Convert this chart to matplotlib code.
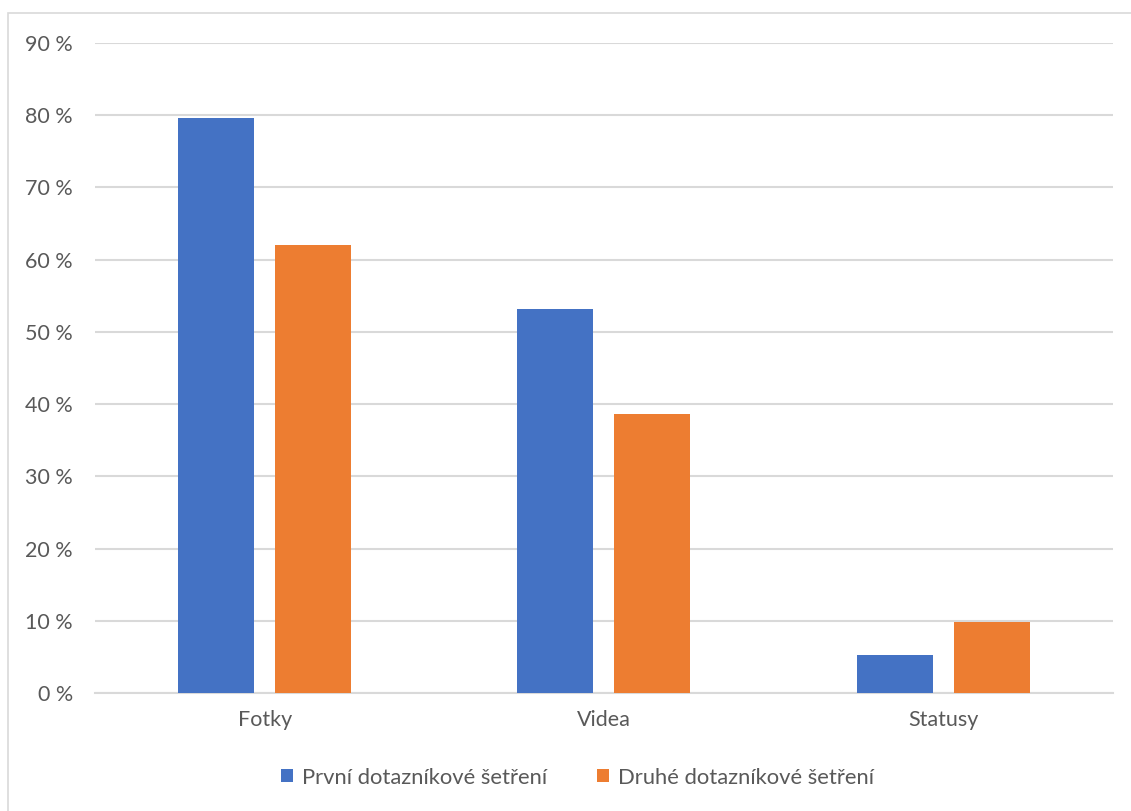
import matplotlib.pyplot as plt
import numpy as np
from matplotlib.patches import Rectangle

categories = ['Fotky', 'Videa', 'Statusy']
series_names = ['První dotazníkové šetření', 'Druhé dotazníkové šetření']
prvni = [79.6, 53.2, 5.3]
druhe = [62.0, 38.6, 9.8]
yticks = [0, 10, 20, 30, 40, 50, 60, 70, 80, 90]

plt.rcParams['font.family'] = ['Lato', 'DejaVu Sans']
text_col = '#595959'
grid_col = '#d9d9d9'

fig = plt.figure(figsize=(11.31, 8.11), dpi=100)
ax = fig.add_axes([0.084, 0.1455, 0.9, 0.8015])

# chart border (left and top edges visible)
fig.patches.append(Rectangle((8 / 1131, -0.01), 1.1, (811 - 13) / 811 + 0.01,
                             transform=fig.transFigure, fill=False,
                             edgecolor=grid_col, lw=1.2))

x = np.arange(len(categories))
w = 0.224
off = 0.143
ax.bar(x - off, prvni, w, color='#4472c4', zorder=3, label=series_names[0])
ax.bar(x + off, druhe, w, color='#ed7d31', zorder=3, label=series_names[1])

ax.set_xlim(-0.5, 2.5)
ax.set_ylim(0, 90)
ax.set_yticks(yticks)
ax.set_yticklabels([f'{v} %' for v in yticks])
ax.set_xticks(x)
ax.set_xticklabels(categories)
ax.grid(axis='y', color=grid_col, lw=1.5, zorder=0)
for s in ['top', 'right', 'left']:
    ax.spines[s].set_visible(False)
ax.spines['bottom'].set_color(grid_col)
ax.spines['bottom'].set_linewidth(1.5)
ax.tick_params(axis='both', length=0, labelsize=15.5, colors=text_col)
ax.tick_params(axis='y', pad=16)
ax.tick_params(axis='x', pad=12)

leg = ax.legend(loc='center', bbox_to_anchor=(0.474, -0.13), ncol=2, frameon=False,
                fontsize=15.8, handlelength=0.55, handleheight=0.55, columnspacing=2.3,
                handletextpad=0.4)
for t in leg.get_texts():
    t.set_color(text_col)

fig.savefig('out.png', dpi=100)
